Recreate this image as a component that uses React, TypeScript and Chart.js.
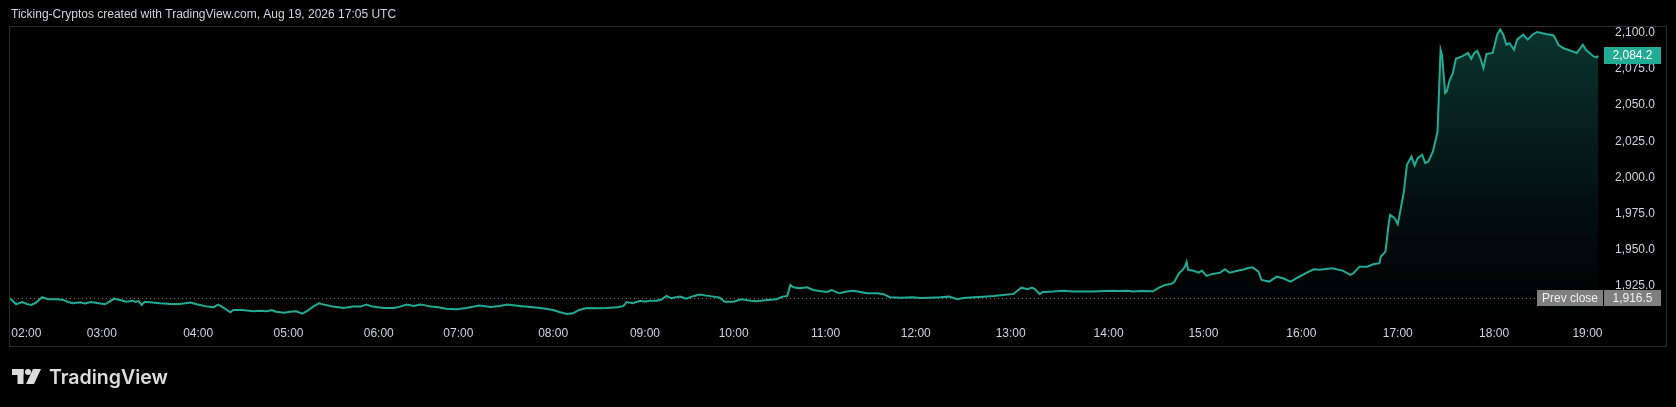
import React, { useEffect, useRef } from "react";
import { Chart, registerables } from "chart.js";

Chart.register(...registerables);

// ---- data ----
const hourLabels = ["02:00","03:00","04:00","05:00","06:00","07:00","08:00","09:00","10:00","11:00","12:00","13:00","14:00","15:00","16:00","17:00","18:00","19:00"];
const hourBars = [10.7, 60, 123, 182, 241, 293, 355, 415, 473, 533, 592, 654, 718, 780, 844, 907, 970, 1031];
const priceTicks = [1925, 1950, 1975, 2000, 2025, 2050, 2075, 2100];
const prevClose = 1916.5;
const lastPrice = 2084.2;
const titleText = "Ticking-Cryptos created with TradingView.com, Aug 19, 2026 17:05 UTC";

// [bar index, price]
const priceSeries: [number, number][] = [
  [0,1916.5],[4,1912.3],[8,1913.9],[11,1912.5],[14,1911.9],[17,1913.5],[21,1917.2],[25,1915.8],[31,1915.8],[35,1915.3],
  [38,1913.9],[41,1913.0],[46,1913.7],[49,1912.8],[53,1913.9],[58,1913.0],[62,1912.3],[65,1914.1],[68,1916.2],[72,1915.3],
  [76,1914.1],[80,1914.8],[82,1913.9],[84,1914.6],[86,1911.9],[88,1914.1],[93,1913.5],[98,1913.0],[105,1912.5],[111,1912.5],
  [118,1913.5],[122,1912.3],[129,1910.7],[133,1910.3],[136,1912.1],[139,1910.3],[144,1906.8],[146,1908.4],[152,1908.4],[159,1907.5],
  [163,1907.9],[168,1907.5],[171,1908.4],[174,1907.2],[179,1906.5],[183,1907.2],[187,1907.5],[191,1905.8],[194,1907.5],[198,1910.7],
  [202,1913.0],[205,1912.1],[211,1910.7],[218,1909.8],[224,1910.7],[229,1910.7],[233,1912.1],[237,1910.7],[244,1909.8],[251,1909.8],
  [255,1910.7],[259,1912.1],[264,1911.2],[268,1912.1],
  [270,1911.9],[275,1910.7],[279,1910.5],[285,1909.3],[292,1908.9],[298,1909.8],[307,1911.4],[314,1910.5],[320,1911.2],[325,1912.1],
  [333,1911.2],[342,1910.3],[348,1909.6],[355,1908.4],[359,1907.0],[364,1905.6],[368,1906.1],[372,1908.4],[377,1909.8],[384,1909.6],
  [390,1909.8],[397,1910.3],[401,1911.2],[403,1913.9],[407,1913.0],[412,1914.8],[415,1914.1],[418,1914.8],[423,1914.8],[426,1915.8],
  [429,1918.1],[432,1916.5],[438,1917.6],[442,1916.2],[447,1918.1],[451,1919.0],[455,1918.3],[460,1917.6],[464,1916.9],[467,1914.1],
  [473,1914.1],[478,1915.8],[484,1914.8],[488,1914.4],[495,1915.3],[501,1915.8],[505,1917.6],[508,1918.1],[510,1925.7],[512,1924.1],
  [516,1923.4],[521,1924.1],[525,1922.2],[529,1921.5],[534,1920.8],[537,1922.2],[542,1919.9],
  [547,1921.1],[551,1921.7],[556,1920.8],[560,1919.9],[567,1919.9],[571,1919.3],[575,1917.2],[582,1916.9],[590,1917.2],[595,1916.7],
  [601,1916.9],[608,1917.2],[614,1917.6],[619,1915.8],[623,1916.7],[630,1917.2],[636,1917.6],[643,1918.1],[649,1918.8],[656,1919.5],
  [659,1922.2],[661,1923.8],[665,1922.7],[668,1923.8],[670,1922.7],[673,1919.3],[675,1920.8],[682,1921.1],[688,1921.7],[695,1921.1],
  [701,1921.1],[708,1921.1],[715,1921.5],[721,1921.7],[725,1921.5],[730,1921.7],[734,1921.1],[739,1921.5],[747,1921.3],[751,1923.8],
  [755,1925.7],[759,1926.4],[761,1927.8],[764,1933.8],[766,1935.6],[768,1938.4],[769,1941.6],[770,1936.1],[773,1935.6],[777,1934.2],
  [779,1935.6],[782,1931.9],[786,1933.3],[791,1934.2],[794,1936.5],[797,1934.2],[803,1935.6],[807,1936.5],[809,1937.4],
  [812,1937.9],[816,1934.9],[818,1929.1],[823,1928.0],[828,1931.4],[832,1930.3],[837,1928.0],[842,1931.0],[847,1933.8],[852,1936.5],
  [856,1936.1],[864,1937.2],[871,1935.6],[876,1932.6],
  [878,1933.8],[882,1938.3],[887,1938.3],[891,1940.0],[895,1940.7],[896,1945.3],[899,1948.7],[901,1967.2],[902,1974.1],[905,1971.8],
  [907,1967.7],[908,1972.9],[911,1990.2],[913,2008.7],[916,2014.4],[918,2008.2],[920,2013.3],[923,2015.6],[925,2009.9],[927,2011.0],
  [930,2017.9],[932,2026.7],[933,2031.7],[935,2088.2],[936,2084.3],[938,2058.3],[939,2059.4],[941,2067.5],[943,2072.1],[945,2082.0],
  [949,2083.6],[953,2086.0],[955,2082.0],[957,2086.0],[959,2087.5],[961,2082.5],[963,2075.6],[965,2085.3],[969,2086.0],[972,2098.6],
  [974,2102.3],[976,2098.6],[978,2091.7],[980,2092.9],[983,2088.2],[985,2095.2],[989,2098.6],[992,2095.2],[995,2098.6],[998,2100.5],
  [1004,2099.1],[1009,2098.1],[1012,2091.7],[1015,2089.4],[1020,2087.5],[1024,2086.0],[1028,2091.7],[1030,2088.2],[1035,2083.6],[1037,2082.9],
  [1038,2084.2],
];

// ---- styles ----
const LINE = "#22ab94";
const TEXT = "#d1d4dc";
const GRAY_BOX = "#7f7f7f";
const FONT = "Liberation Sans";

const fmt = (v: number) => {
  const [i, d] = v.toFixed(1).split(".");
  return i.replace(/\B(?=(\d{3})+(?!\d))/g, ",") + "." + d;
};

const overlay = {
  id: "overlay",
  beforeDatasetsDraw(chart: any) {
    const ctx = chart.ctx;
    const y = Math.round(chart.scales.y.getPixelForValue(prevClose)) + 0.5;
    ctx.save();
    ctx.strokeStyle = "#787b86";
    ctx.lineWidth = 1;
    ctx.setLineDash([1, 3]);
    ctx.beginPath();
    ctx.moveTo(chart.chartArea.left, y);
    ctx.lineTo(1537, y);
    ctx.stroke();
    ctx.restore();
  },
  afterDraw(chart: any) {
    const ctx = chart.ctx;
    const ys = chart.scales.y;
    ctx.save();
    // frame
    ctx.strokeStyle = "#2e2e2e";
    ctx.lineWidth = 1;
    ctx.strokeRect(9.5, 26.5, 1657, 320);
    // title
    ctx.fillStyle = TEXT;
    ctx.font = `12px "${FONT}"`;
    ctx.textBaseline = "middle";
    ctx.textAlign = "left";
    ctx.fillText(titleText, 11, 15);

    // last price label
    const yl = ys.getPixelForValue(lastPrice);
    ctx.fillStyle = LINE;
    ctx.fillRect(1604, Math.round(yl - 8.5), 57, 17);
    ctx.fillStyle = "#ffffff";
    ctx.textAlign = "center";
    ctx.fillText(fmt(lastPrice), 1632.5, yl + 0.5);

    // prev close labels
    const yp = ys.getPixelForValue(prevClose);
    ctx.fillStyle = GRAY_BOX;
    ctx.fillRect(1537, Math.round(yp - 8), 66, 16);
    ctx.fillRect(1604, Math.round(yp - 8), 57, 16);
    ctx.fillStyle = "#f0f0f0";
    ctx.fillText("Prev close", 1570, yp + 0.5);
    ctx.fillText(fmt(prevClose), 1632.5, yp + 0.5);

    // logo
    ctx.fillStyle = "#dcdcdc";
    ctx.fillRect(12, 369, 11.5, 6);
    ctx.fillRect(17.5, 369, 6, 15);
    ctx.beginPath();
    ctx.arc(28, 372, 3, 0, Math.PI * 2);
    ctx.fill();
    ctx.beginPath();
    ctx.moveTo(33, 369);
    ctx.lineTo(41, 369);
    ctx.lineTo(34, 384);
    ctx.lineTo(26, 384);
    ctx.closePath();
    ctx.fill();
    ctx.font = `600 20px Inter`;
    const w = ctx.measureText("TradingView").width;
    const size = (20 * 119) / w;
    ctx.font = `600 ${size}px Inter`;
    ctx.textAlign = "left";
    ctx.textBaseline = "alphabetic";
    ctx.fillText("TradingView", 49, 384);
    ctx.restore();
  },
};

export default function App() {
  const ref = useRef<HTMLCanvasElement | null>(null);
  useEffect(() => {
    document.body.style.margin = "0";
    document.body.style.background = "#000";
    const canvas = ref.current!;
    const chart = new Chart(canvas, {
      type: "line",
      data: {
        datasets: [
          {
            data: priceSeries.map(([x, y]) => ({ x, y })),
            borderColor: LINE,
            borderWidth: 2,
            pointRadius: 0,
            tension: 0,
            fill: "start",
            backgroundColor: (c: any) => {
              const area = c.chart.chartArea;
              if (!area) return "rgba(0,0,0,0)";
              const g = c.chart.ctx.createLinearGradient(0, area.top, 0, area.bottom);
              g.addColorStop(0, "rgba(34,171,148,0.30)");
              g.addColorStop(0.6, "rgba(34,171,148,0.09)");
              g.addColorStop(1, "rgba(34,171,148,0.0)");
              return g;
            },
          },
        ],
      },
      options: {
        responsive: false,
        animation: false,
        events: [],
        layout: { padding: { left: 10, right: 10, top: 28, bottom: 61 } },
        plugins: { legend: { display: false }, tooltip: { enabled: false } },
        scales: {
          x: {
            type: "linear",
            min: 0,
            max: 1040.5,
            grid: { display: false, drawTicks: false },
            border: { display: false },
            afterBuildTicks: (s: any) => {
              s.ticks = hourBars.map((v) => ({ value: v }));
            },
            afterFit: (s: any) => {
              s.height = 26;
            },
            ticks: {
              autoSkip: false,
              maxRotation: 0,
              padding: 6,
              color: TEXT,
              font: { family: FONT, size: 12 },
              callback: (_v: any, i: number) => hourLabels[i],
            },
          },
          y: {
            type: "linear",
            position: "right",
            min: 1901.45,
            max: 2103.25,
            grid: { display: false, drawTicks: false },
            border: { display: false },
            afterBuildTicks: (s: any) => {
              s.ticks = priceTicks.map((v) => ({ value: v }));
            },
            afterFit: (s: any) => {
              s.width = 64;
            },
            ticks: {
              padding: 13,
              crossAlign: "near",
              color: TEXT,
              font: { family: FONT, size: 12 },
              callback: (v: any) => fmt(Number(v)),
            },
          },
        },
      },
      plugins: [overlay],
    } as any);
    return () => chart.destroy();
  }, []);
  return (
    <div style={{ position: "fixed", left: 0, top: 0, width: 1676, height: 407, background: "#000" }}>
      <canvas ref={ref} width={1676} height={407} style={{ display: "block" }} />
    </div>
  );
}
